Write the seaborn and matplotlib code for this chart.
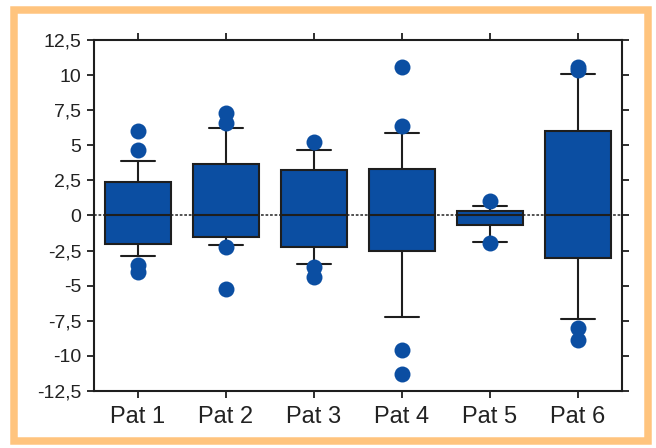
import pandas as pd
import matplotlib.pyplot as plt
import matplotlib.patches as patches
from matplotlib.ticker import FuncFormatter
import seaborn as sns

# summary values
patients = ["Pat 1", "Pat 2", "Pat 3", "Pat 4", "Pat 5", "Pat 6"]
whisker_low = [-2.9, -2.1, -3.45, -7.25, -1.9, -7.35]
q1 = [-2.0, -1.5, -2.25, -2.55, -0.7, -3.05]
median = [0.0, 0.0, 0.0, 0.0, 0.0, 0.0]
q3 = [2.4, 3.65, 3.25, 3.3, 0.35, 6.0]
whisker_high = [3.9, 6.2, 4.65, 5.9, 0.7, 10.05]

# single points outside the whiskers
outlier_patient = ["Pat 1", "Pat 1", "Pat 1", "Pat 1",
                   "Pat 2", "Pat 2", "Pat 2", "Pat 2",
                   "Pat 3", "Pat 3", "Pat 3",
                   "Pat 4", "Pat 4", "Pat 4", "Pat 4",
                   "Pat 5", "Pat 5",
                   "Pat 6", "Pat 6", "Pat 6", "Pat 6"]
outlier_value = [6.0, 4.7, -3.5, -4.05,
                 7.3, 6.6, -2.25, -5.2,
                 5.2, -3.7, -4.35,
                 10.55, 6.35, -9.6, -11.3,
                 1.05, -1.95,
                 10.55, 10.35, -8.0, -8.85]

yticks = [-12.5, -10, -7.5, -5, -2.5, 0, 2.5, 5, 7.5, 10, 12.5]

BLUE = "#0B4EA2"
LINE = "#1e1e1e"

# 7 values per patient so that min/q1/median/q3/max come out exactly
rows = []
for i, p in enumerate(patients):
    for v in [whisker_low[i], q1[i], q1[i], median[i], q3[i], q3[i], whisker_high[i]]:
        rows.append({"patient": p, "value": v})
box_df = pd.DataFrame(rows)
out_df = pd.DataFrame({"patient": outlier_patient, "value": outlier_value})

sns.set_style("ticks")
plt.rcParams["font.family"] = ["Liberation Sans", "DejaVu Sans"]

fig = plt.figure(figsize=(6.56, 4.48), dpi=100)
fig.patch.set_facecolor("white")
ax = fig.add_axes([94 / 656, (448 - 391) / 448, (622 - 94) / 656, (391 - 40) / 448])

ax.axhline(0, color="#444444", lw=1.3, ls=(0, (1.5, 1)), zorder=0.5)

sns.boxplot(data=box_df, x="patient", y="value", order=patients, whis=(0, 100),
            width=0.76, color=BLUE, saturation=1, linecolor=LINE, linewidth=1.5,
            showfliers=False, ax=ax)
sns.stripplot(data=out_df, x="patient", y="value", order=patients, jitter=False,
              size=11.5, color=BLUE, linewidth=0, zorder=5, ax=ax)

ax.set_xlim(-0.5, 5.5)
ax.set_ylim(-12.5, 12.5)
ax.set_yticks(yticks)
ax.yaxis.set_major_formatter(FuncFormatter(lambda v, _: f"{v:g}".replace(".", ",")))
ax.set_xlabel("")
ax.set_ylabel("")

for s in ax.spines.values():
    s.set_visible(True)
    s.set_color(LINE)
    s.set_linewidth(1.5)
ax.tick_params(axis="both", direction="out", length=5, width=1.3, color=LINE,
               top=True, right=True, labelcolor="#222222")
ax.tick_params(axis="y", labelsize=14, pad=4)
ax.tick_params(axis="x", labelsize=17, pad=6)

# orange frame around the whole picture
fig.patches.append(patches.Rectangle(
    (13.75 / 656, 1 - 441 / 448), (648 - 13.75) / 656, (441 - 10) / 448,
    transform=fig.transFigure, fill=False, ec="#FFC47E", lw=5.4))

fig.savefig("out.png", dpi=100)
